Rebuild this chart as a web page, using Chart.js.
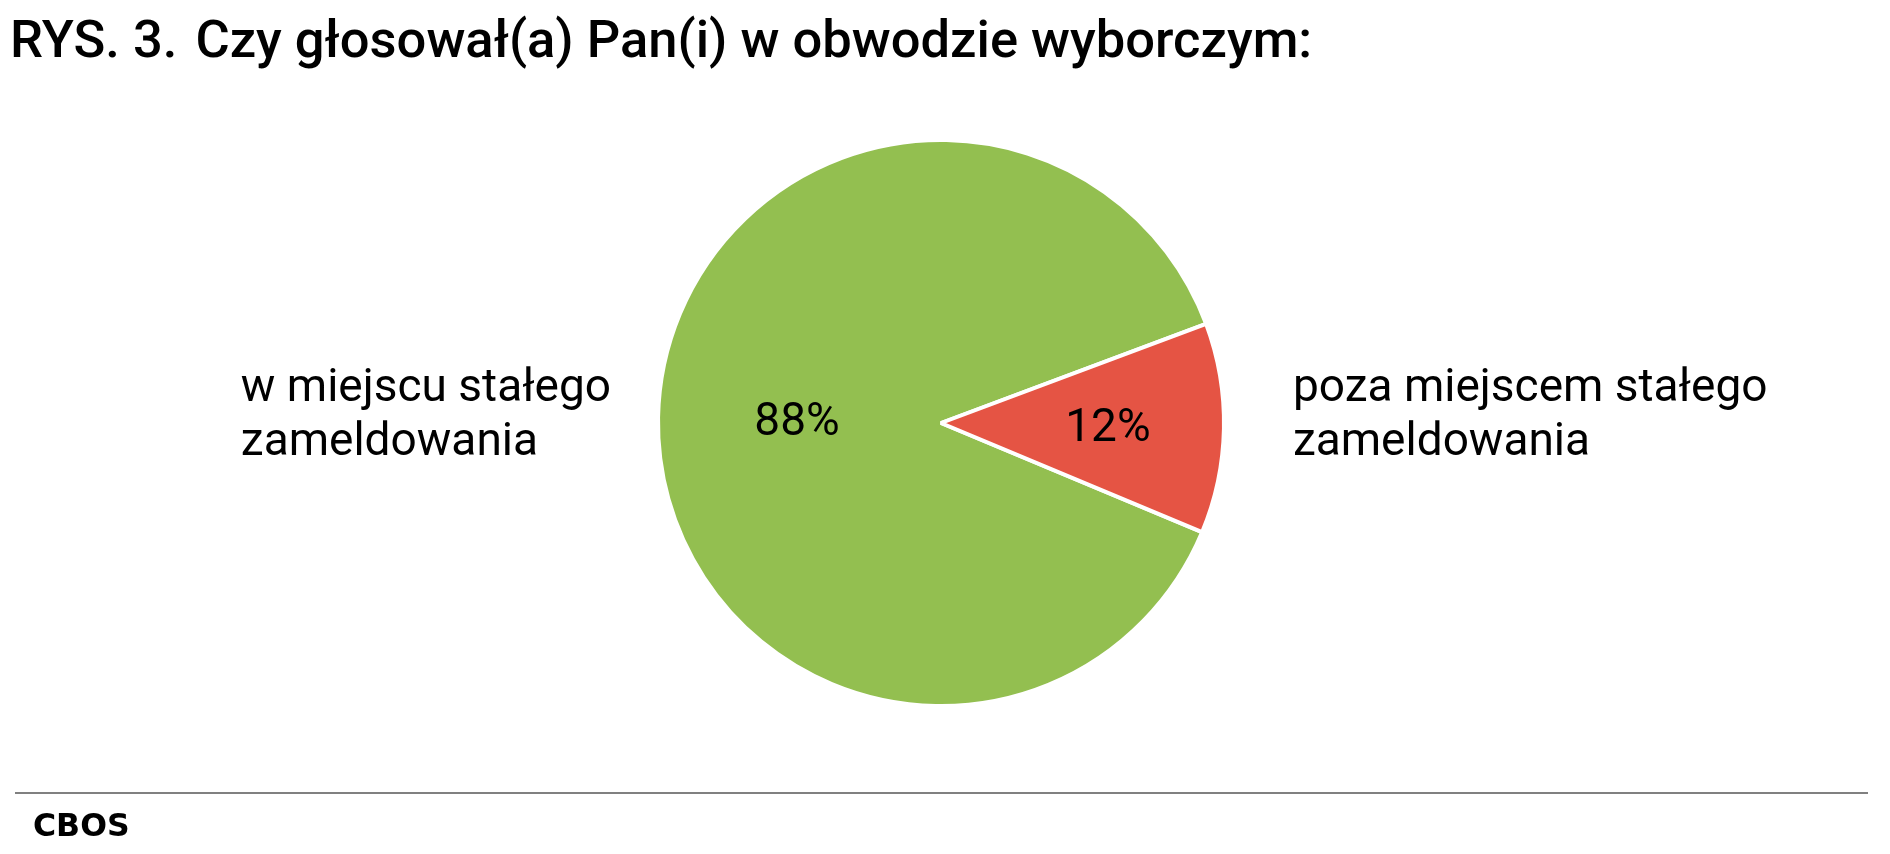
<!DOCTYPE html>
<html lang="pl">
<head>
  <meta charset="UTF-8">
  <title>RYS. 3. Czy głosował(a) Pan(i) w obwodzie wyborczym</title>
  <script src="https://cdn.jsdelivr.net/npm/chart.js"></script>
  <style>
    html, body {
      margin: 0;
      padding: 0;
      background: #fff;
    }
    body {
      width: 1890px;
      height: 854px;
      position: relative;
      overflow: hidden;
      font-family: Roboto, sans-serif;
      color: #000;
    }
    #tytul {
      position: absolute;
      left: 10px;
      top: 13px;
      font-size: 52.5px;
      line-height: 52px;
      font-weight: 500;
      white-space: nowrap;
    }
    #tytul span { margin-right: 5px; }
    #pole {
      position: absolute;
      left: 0;
      top: 0;
      width: 1890px;
      height: 854px;
    }
    #linia {
      position: absolute;
      left: 15px;
      top: 792px;
      width: 1853px;
      height: 2px;
      background: #808080;
    }
    #zrodlo {
      position: absolute;
      left: 33px;
      top: 810px;
      font-family: "DejaVu Sans", sans-serif;
      font-weight: 700;
      font-size: 31.5px;
      line-height: 31px;
    }
  </style>
</head>
<body>
  <div id="pole"><canvas id="wykres"></canvas></div>
  <div id="tytul"><span>RYS. 3.</span> Czy głosował(a) Pan(i) w obwodzie wyborczym:</div>
  <div id="linia"></div>
  <div id="zrodlo">CBOS</div>

  <script>
    // dane z rysunku
    const kategorie = [
      ["w miejscu stałego", "zameldowania"],
      ["poza miejscem stałego", "zameldowania"]
    ];
    const wartosci = [88, 12];
    const kolory = ["#93bf50", "#e55444"];

    // gdzie stoją podpisy (ułamek promienia / odstęp od koła w px)
    const procentNaPromieniu = [0.509, 0.59];
    const odstepPodpisu = [47, 69];

    const podpisy = {
      id: 'podpisy',
      afterDatasetsDraw(chart) {
        const ctx = chart.ctx;
        const meta = chart.getDatasetMeta(0);
        ctx.save();
        ctx.fillStyle = '#000';
        ctx.font = '46px Roboto';
        ctx.textBaseline = 'alphabetic';
        meta.data.forEach((arc, i) => {
          const p = arc.getProps(['x', 'y', 'startAngle', 'endAngle', 'outerRadius']);
          const kat = (p.startAngle + p.endAngle) / 2;

          // procent w środku wycinka
          const d = p.outerRadius * procentNaPromieniu[i];
          ctx.textAlign = 'center';
          ctx.fillText(wartosci[i] + '%', p.x + Math.cos(kat) * d, p.y + Math.sin(kat) * d + 15);

          // nazwa kategorii obok koła
          const ax = p.x + Math.cos(kat) * (p.outerRadius + odstepPodpisu[i]);
          const linie = kategorie[i];
          const szer = Math.max(...linie.map(l => ctx.measureText(l).width));
          const lewo = Math.cos(kat) < 0 ? ax - szer : ax;
          ctx.textAlign = 'left';
          linie.forEach((l, k) => ctx.fillText(l, lewo, p.y - 22 + k * 54));
        });
        ctx.restore();
      }
    };

    const ctx = document.getElementById('wykres').getContext('2d');
    new Chart(ctx, {
      type: 'pie',
      data: {
        labels: kategorie,
        datasets: [{
          data: wartosci,
          backgroundColor: kolory,
          borderColor: '#ffffff',
          borderWidth: 4
        }]
      },
      options: {
        responsive: true,
        maintainAspectRatio: false,
        animation: false,
        rotation: 112.7,
        layout: {
          padding: { top: 138, bottom: 146, left: 0, right: 8 }
        },
        plugins: {
          legend: { display: false },
          tooltip: { enabled: false }
        }
      },
      plugins: [podpisy]
    });
  </script>
</body>
</html>
